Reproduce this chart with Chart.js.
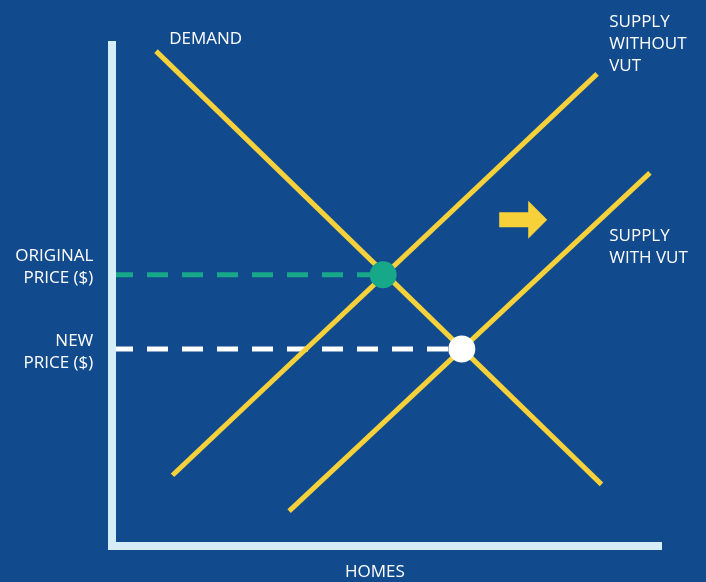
<!DOCTYPE html>
<html>
<head>
<meta charset="utf-8">
<script src="https://cdn.jsdelivr.net/npm/chart.js@4.4.1/dist/chart.umd.min.js"></script>
<style>
  html, body { margin: 0; padding: 0; background: #124b8d; }
  canvas { display: block; }
</style>
</head>
<body>
<canvas id="vutChart" width="706" height="582"></canvas>
<script>
// Curves, in axis units (0-100 on both axes: homes across, price up)
const demandX = [8, 89];
const demandY = [98, 12.2];
const supplyX = [11, 88.2];
const supplyY = [14, 93.5];
const supplyVutX = [32.2, 97.8];
const supplyVutY = [6.9, 73.9];

const equilibriumX = [49.3, 63.6];
const equilibriumY = [53.7, 39.0];
const originalPrice = 53.7;
const newPrice = 39.0;

const yellow = '#f6d13a';
const green = '#17a88a';
const axisColour = '#d6ecf9';
const bg = '#124b8d';

const toPoints = (xs, ys) => xs.map((x, i) => ({ x: x, y: ys[i] }));

// text placed on the chart: anchor in axis units, lines stacked 22px apart
const notes = [
    { lines: ['DEMAND'], x: 10.4, y: 100.4, align: 'left' },
    { lines: ['SUPPLY', 'WITHOUT', 'VUT'], x: 90.4, y: 103.8, align: 'left' },
    { lines: ['SUPPLY', 'WITH VUT'], x: 90.4, y: 61.4, align: 'left' },
    { lines: ['ORIGINAL', 'PRICE ($)'], x: -3.4, y: 57.4, align: 'right' },
    { lines: ['NEW', 'PRICE ($)'], x: -3.4, y: 40.6, align: 'right' },
    { lines: ['HOMES'], x: 47.8, y: -5.2, align: 'center' }
];

const frameAndNotes = {
    id: 'frameAndNotes',
    afterDatasetsDraw(chart) {
        const { ctx, chartArea: a, scales } = chart;
        ctx.save();
        // axes
        ctx.strokeStyle = axisColour;
        ctx.lineWidth = 8;
        ctx.lineJoin = 'miter';
        ctx.beginPath();
        ctx.moveTo(a.left, a.top);
        ctx.lineTo(a.left, a.bottom);
        ctx.lineTo(a.right, a.bottom);
        ctx.stroke();

        // shift arrow
        const ax = scales.x.getPixelForValue(70.4);
        const ay = scales.y.getPixelForValue(64.6);
        ctx.fillStyle = yellow;
        ctx.beginPath();
        ctx.moveTo(ax, ay - 7.5);
        ctx.lineTo(ax + 29, ay - 7.5);
        ctx.lineTo(ax + 29, ay - 19);
        ctx.lineTo(ax + 48, ay);
        ctx.lineTo(ax + 29, ay + 19);
        ctx.lineTo(ax + 29, ay + 7.5);
        ctx.lineTo(ax, ay + 7.5);
        ctx.closePath();
        ctx.fill();

        // labels
        ctx.fillStyle = '#ffffff';
        ctx.font = '17px "Open Sans", sans-serif';
        ctx.textBaseline = 'middle';
        notes.forEach(n => {
            ctx.textAlign = n.align;
            const px = scales.x.getPixelForValue(n.x);
            const py = scales.y.getPixelForValue(n.y);
            n.lines.forEach((t, i) => ctx.fillText(t, px, py + i * 22));
        });
        ctx.restore();
    }
};

const line = (data, colour, dash) => ({
    type: 'line',
    data: data,
    borderColor: colour,
    borderWidth: 5,
    borderDash: dash || [],
    borderCapStyle: 'butt',
    pointRadius: 0,
    fill: false,
    tension: 0
});

new Chart(document.getElementById('vutChart'), {
    type: 'scatter',
    data: {
        datasets: [
            {
                type: 'scatter',
                data: toPoints(equilibriumX, equilibriumY),
                pointRadius: 13.5,
                pointBackgroundColor: [green, '#ffffff'],
                pointBorderWidth: 0,
                order: 0
            },
            Object.assign(line(toPoints(demandX, demandY), yellow), { order: 1 }),
            Object.assign(line(toPoints(supplyX, supplyY), yellow), { order: 1 }),
            Object.assign(line(toPoints(supplyVutX, supplyVutY), yellow), { order: 1 }),
            Object.assign(line([{ x: 0, y: originalPrice }, { x: equilibriumX[0], y: originalPrice }], green, [21, 14]), { order: 2 }),
            Object.assign(line([{ x: 0, y: newPrice }, { x: equilibriumX[1], y: newPrice }], '#ffffff', [21, 14]), { order: 2 })
        ]
    },
    options: {
        responsive: false,
        animation: false,
        layout: { padding: { left: 112, right: 44, top: 41, bottom: 36 } },
        plugins: { legend: { display: false }, tooltip: { enabled: false } },
        scales: {
            x: { type: 'linear', min: 0, max: 100, display: false },
            y: { type: 'linear', min: 0, max: 100, display: false }
        }
    },
    plugins: [frameAndNotes]
});
</script>
</body>
</html>
